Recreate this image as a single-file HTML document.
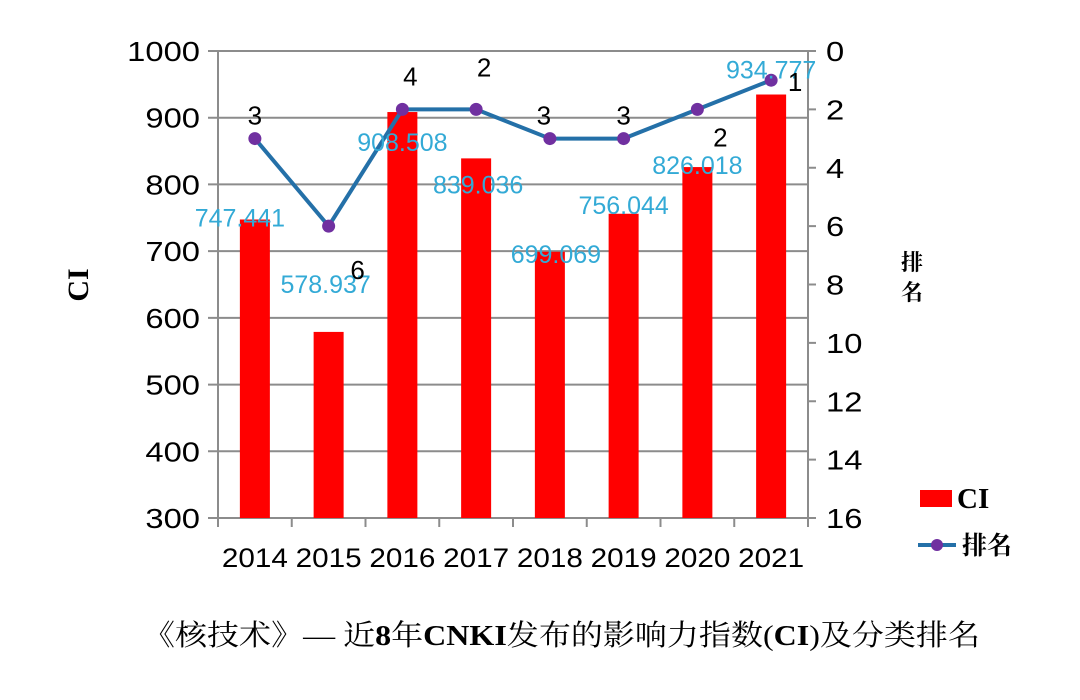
<!DOCTYPE html>
<html><head><meta charset="utf-8"><style>
html,body{margin:0;padding:0;background:#fff;}
svg{display:block;}
</style></head><body>
<svg id="chart" width="1080" height="700" viewBox="0 0 1080 700" xmlns="http://www.w3.org/2000/svg" font-family="'Liberation Sans','Noto Sans CJK SC',sans-serif">
<g id="grid"></g>
<g id="bars"></g>
<g id="axes"></g>
<g id="line"></g>
<g id="labels"></g>
<text x="0" y="0" transform="translate(88,285) rotate(-90)" text-anchor="middle" font-family="'Liberation Serif',serif" font-weight="bold" font-size="30">CI</text>
<text x="912" y="270" text-anchor="middle" font-family="'Liberation Serif','Noto Serif CJK SC',serif" font-weight="bold" font-size="22">排</text>
<text x="912" y="300" text-anchor="middle" font-family="'Liberation Serif','Noto Serif CJK SC',serif" font-weight="bold" font-size="22">名</text>
<g>
<rect x="920" y="490" width="32" height="17" fill="#ff0000"/>
<text x="957" y="508" font-family="'Liberation Serif',serif" font-weight="bold" font-size="29">CI</text>
<line x1="918" y1="545" x2="956" y2="545" stroke="#2470a8" stroke-width="4"/>
<circle cx="937" cy="545" r="6" fill="#7030a0"/>
<text x="962" y="554" font-family="'Liberation Serif','Noto Serif CJK SC',serif" font-weight="bold" font-size="25">排名</text>
</g>
<text x="143" y="645" textLength="837" lengthAdjust="spacingAndGlyphs" font-family="'Liberation Serif','Noto Serif CJK SC',serif" font-size="29">《核技术》— 近<tspan font-weight="bold">8</tspan>年<tspan font-weight="bold">CNKI</tspan>发布的影响力指数(<tspan font-weight="bold">CI</tspan>)及分类排名</text>
</svg>
<script>
const categories=["2014","2015","2016","2017","2018","2019","2020","2021"];
const ciValues=[747.441,578.937,908.508,839.036,699.069,756.044,826.018,934.777];
const ciLabels=["747.441","578.937","908.508","839.036","699.069","756.044","826.018","934.777"];
const rankValues=[3,6,2,2,3,3,2,1];
const rankLabels=["3","6","4","2","3","3","2","1"];
const leftTicks=[300,400,500,600,700,800,900,1000];
const rightTicks=[0,2,4,6,8,10,12,14,16];
// label offsets (style only, px relative to mark)
const ciLabelOff=[[-15,7],[-3,-39],[0,39],[2,35],[6,11],[0,0],[0,7],[0,-16]];
const rankLabelOff=[[0,-14],[29,53],[8,-24],[8,-33],[-6,-14],[0,-14],[23,37],[24,11]];
const NS="http://www.w3.org/2000/svg";
const X0=218,X1=808,Y0=518,Y1=51;
const bw=(X1-X0)/categories.length;
const xC=i=>X0+bw*(i+0.5);
const yL=v=>Y0-(v-300)/(1000-300)*(Y0-Y1);
const yR=v=>Y1+v/16*(Y0-Y1);
function mk(tag,attrs,parent,txt){const e=document.createElementNS(NS,tag);for(const k in attrs)e.setAttribute(k,attrs[k]);if(txt!==undefined)e.textContent=txt;document.getElementById(parent).appendChild(e);return e;}
const TL=s=>({textLength:(s.length*18.2).toFixed(1),lengthAdjust:'spacingAndGlyphs'});
leftTicks.forEach(t=>{
 const g=mk('line',{x1:X0-10,x2:X1,y1:yL(t),y2:yL(t),stroke:'#8c8c8c','stroke-width':2},'grid');
 
 
 const s=String(t);
 const l=mk('text',Object.assign({x:X0-18-s.length*18.2,y:yL(t)+10,'font-size':28,fill:'#000'},TL(s)),'axes',s);
 
 
});
rightTicks.forEach(t=>{
 const g=mk('line',{x1:X1,x2:X1+8,y1:yR(t),y2:yR(t),stroke:'#8c8c8c','stroke-width':2},'axes');
 
 
 const s=String(t);
 const l=mk('text',Object.assign({x:X1+18,y:yR(t)+10,'font-size':28,fill:'#000'},TL(s)),'axes',s);
 
 
});
let a=mk('line',{x1:X0,x2:X0,y1:Y1,y2:Y0,stroke:'#8c8c8c','stroke-width':2},'axes');


a=mk('line',{x1:X1,x2:X1,y1:Y1,y2:Y0,stroke:'#8c8c8c','stroke-width':2},'axes');


for(let i=0;i<=categories.length;i++){
 const t=mk('line',{x1:X0+bw*i,x2:X0+bw*i,y1:Y0,y2:Y0+9,stroke:'#8c8c8c','stroke-width':2},'axes');
 
 
}
categories.forEach((c,i)=>{
 const l=mk('text',{x:xC(i)-33,y:567,textLength:66,lengthAdjust:'spacingAndGlyphs','font-size':27,fill:'#000'},'axes',c);
 
 
 const b=mk('rect',{x:xC(i)-15,y:yL(ciValues[i]),width:30,height:Y0-yL(ciValues[i]),fill:'#ff0000'},'bars');
 
 
});
const pts=rankValues.map((v,i)=>xC(i)+','+yR(v)).join(' ');
const pl=mk('polyline',{points:pts,fill:'none',stroke:'#2470a8','stroke-width':4,'stroke-linejoin':'round'},'line');


rankValues.forEach((v,i)=>{
 const c=mk('circle',{cx:xC(i),cy:yR(v),r:6.5,fill:'#7030a0'},'line');
 
 
});
ciValues.forEach((v,i)=>{
 const t=mk('text',{x:xC(i)+ciLabelOff[i][0],y:yL(v)+ciLabelOff[i][1],'text-anchor':'middle','font-size':25,fill:'#33aad6'},'labels',ciLabels[i]);
 
 
});
rankValues.forEach((v,i)=>{
 const t=mk('text',{x:xC(i)+rankLabelOff[i][0],y:yR(v)+rankLabelOff[i][1],'text-anchor':'middle','font-size':26,fill:'#000'},'labels',rankLabels[i]);
 
 
});
</script>
</body></html>
